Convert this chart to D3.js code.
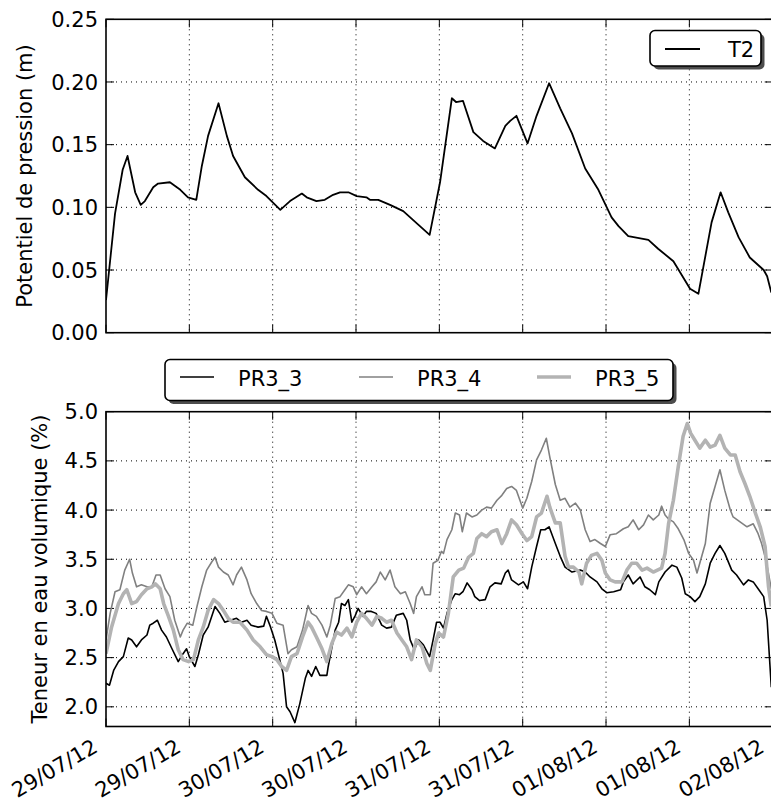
<!DOCTYPE html>
<html><head><meta charset="utf-8">
<script src="https://cdn.jsdelivr.net/npm/d3@7"></script>
<style>body{margin:0;background:#fff}svg{display:block;font-family:"DejaVu Sans",sans-serif}</style>
</head><body><svg id="c" width="771" height="802"></svg>
<script>
// ---- data (hours since 29/07/12 00:00) ----
const xTickHours = [0,12,24,36,48,60,72,84,96];
const xTickLabels = ["29/07/12","29/07/12","30/07/12","30/07/12","31/07/12","31/07/12","01/08/12","01/08/12","02/08/12"];
const topTicks = [0.00,0.05,0.10,0.15,0.20,0.25];
const botTicks = [2.0,2.5,3.0,3.5,4.0,4.5,5.0];

const t2Hours = [0,1.3,2.4,3.1,4.2,5.0,5.6,6.8,7.5,9.2,10.7,11.8,13.0,13.8,14.7,16.2,17.4,18.3,20.0,21.9,23.1,25.1,26.5,28.2,28.9,30.3,31.5,32.7,33.7,34.9,36.1,37.5,38.0,39.2,40.9,42.8,45.0,46.6,48.1,49.8,50.4,51.4,52.9,54.3,56.0,57.5,58.2,59.1,60.7,62.0,63.8,65.4,67.1,69.0,70.9,72.8,73.8,75.2,78.1,79.5,81.7,84.1,85.3,87.2,88.5,89.6,91.1,92.7,94.7,95.2,95.8];
const t2Values = [0.026,0.095,0.130,0.141,0.112,0.102,0.105,0.116,0.119,0.120,0.114,0.108,0.106,0.133,0.157,0.183,0.157,0.141,0.124,0.114,0.109,0.098,0.105,0.111,0.108,0.105,0.106,0.110,0.112,0.112,0.109,0.108,0.106,0.106,0.102,0.097,0.086,0.078,0.120,0.187,0.184,0.185,0.160,0.153,0.147,0.165,0.169,0.173,0.151,0.173,0.199,0.179,0.159,0.131,0.114,0.092,0.085,0.077,0.074,0.067,0.057,0.035,0.031,0.088,0.112,0.096,0.076,0.060,0.050,0.045,0.032];

const pr33Hours = [0,0.5,1.1,1.8,2.5,3.2,3.7,4.4,5.1,5.9,6.3,6.8,7.4,8.0,8.7,9.5,10.4,11.1,11.6,12.0,12.8,13.3,14.0,14.7,15.7,16.4,17.1,17.9,18.8,19.5,20.3,20.9,21.9,22.7,23.1,23.7,24.3,24.8,25.5,26.0,26.5,27.2,27.9,28.7,29.1,29.6,30.2,30.8,31.8,32.0,33.0,33.5,33.9,34.4,34.9,35.4,35.9,36.3,37.0,37.5,38.2,38.9,39.7,40.4,41.1,41.8,42.8,43.3,43.8,44.4,45.0,45.7,46.6,47.1,47.6,48.1,48.6,49.1,49.8,50.3,50.9,51.4,52.0,52.7,53.1,53.8,54.6,55.3,56.0,56.9,57.5,57.9,58.4,59.4,60.1,60.7,61.3,62.0,62.6,63.2,63.8,64.7,65.4,66.1,67.1,68.3,69.0,69.7,70.7,71.4,72.1,73.1,74.1,74.5,75.2,75.9,76.9,77.6,78.3,79.1,79.6,80.5,81.5,82.2,82.9,83.4,84.1,84.8,85.5,86.3,87.0,87.7,88.4,89.1,90.1,90.8,91.8,92.5,93.2,93.9,94.7,95.2,95.8];
const pr33Values = [2.24,2.22,2.37,2.46,2.51,2.70,2.68,2.61,2.68,2.73,2.83,2.85,2.88,2.78,2.71,2.59,2.46,2.54,2.59,2.51,2.41,2.53,2.73,2.81,3.02,2.95,2.86,2.88,2.90,2.86,2.88,2.83,2.81,2.82,2.92,2.81,2.68,2.54,2.34,2.00,1.95,1.84,2.03,2.29,2.37,2.31,2.41,2.32,2.32,2.41,2.78,2.86,3.05,3.03,3.09,2.86,2.93,3.00,2.92,2.97,2.97,2.95,2.83,2.80,2.81,2.93,2.95,2.88,2.68,2.58,2.68,2.63,2.51,2.68,2.86,2.86,2.80,2.95,3.09,3.15,3.14,3.17,3.26,3.19,3.12,3.08,3.09,3.22,3.26,3.25,3.36,3.39,3.29,3.24,3.27,3.20,3.42,3.63,3.80,3.80,3.83,3.66,3.53,3.42,3.37,3.39,3.37,3.32,3.27,3.20,3.16,3.17,3.19,3.27,3.34,3.25,3.32,3.22,3.19,3.14,3.27,3.37,3.44,3.42,3.31,3.15,3.12,3.07,3.12,3.25,3.46,3.56,3.64,3.56,3.39,3.34,3.24,3.29,3.27,3.20,3.12,2.88,2.20];

const pr34Hours = [0,0.6,1.3,2.0,2.7,3.4,3.8,4.4,5.1,5.9,6.6,7.2,7.8,8.5,9.2,9.9,10.7,11.1,11.7,12.5,13.1,13.8,14.5,15.2,15.7,16.2,16.9,17.6,18.3,18.8,19.5,20.3,20.9,21.7,22.4,23.1,23.9,24.6,25.5,26.2,26.7,27.5,28.3,29.1,29.6,30.3,31.1,31.8,32.3,33.0,33.7,34.4,34.9,35.6,36.1,36.8,37.5,38.3,38.9,39.5,40.2,40.9,41.6,42.4,43.1,43.8,44.3,44.7,45.5,45.9,46.7,47.1,47.8,48.3,48.6,49.1,49.8,50.3,50.9,51.3,51.9,52.7,53.4,54.1,54.8,55.5,56.3,57.0,57.7,58.4,59.1,59.6,60.0,60.6,61.3,62.0,62.7,63.4,63.9,64.7,65.4,66.1,66.8,67.6,68.3,69.0,69.7,70.4,71.2,71.9,72.6,73.5,74.5,75.2,75.9,76.7,77.4,78.1,78.8,79.6,80.0,80.5,81.0,81.7,82.4,83.2,83.9,84.6,85.1,85.5,86.3,87.0,87.7,88.4,89.1,89.9,90.3,91.3,92.3,93.2,93.9,94.4,95.0,95.8];
const pr34Values = [2.68,2.95,3.17,3.19,3.39,3.50,3.36,3.22,3.24,3.22,3.22,3.34,3.34,3.20,3.12,2.88,2.71,2.78,2.85,2.83,3.02,3.22,3.39,3.47,3.52,3.42,3.37,3.34,3.24,3.34,3.42,3.29,3.15,3.05,2.98,2.97,2.95,2.85,2.83,2.54,2.58,2.61,2.78,3.03,2.95,2.92,2.83,2.71,2.83,3.10,3.12,3.19,3.24,3.22,3.14,3.22,3.15,3.22,3.27,3.37,3.29,3.39,3.22,3.15,3.17,3.05,2.95,3.12,3.22,3.14,3.14,3.46,3.49,3.58,3.56,3.70,3.80,3.97,3.95,3.78,3.97,3.93,3.95,4.00,4.03,4.02,4.10,4.15,4.22,4.24,4.20,4.10,4.02,4.12,4.29,4.51,4.61,4.73,4.54,4.26,4.10,4.12,4.03,4.07,4.00,3.80,3.68,3.70,3.66,3.63,3.75,3.76,3.81,3.83,3.90,3.80,3.85,3.95,3.90,3.95,4.04,3.95,3.91,3.88,3.81,3.70,3.56,3.49,3.36,3.46,3.66,4.07,4.24,4.41,4.20,4.00,3.93,3.88,3.83,3.86,3.76,3.66,3.50,3.20];

const pr35Hours = [0,0.8,1.8,2.5,3.0,3.7,4.4,5.1,5.9,6.6,7.1,7.8,8.3,9.0,9.7,10.4,11.1,11.9,12.6,13.3,14.0,14.7,15.5,16.2,16.9,17.6,18.3,19.3,20.3,21.2,22.2,23.1,23.9,24.6,25.3,26.0,26.7,27.5,28.3,29.1,29.6,30.3,31.1,31.8,32.5,33.2,33.9,34.7,35.4,36.1,36.8,37.5,38.3,39.0,39.7,40.4,41.1,41.9,42.6,43.3,44.0,44.7,45.5,46.2,46.7,47.4,47.9,48.6,49.3,50.0,50.8,51.5,52.2,52.9,53.4,54.1,54.8,55.5,56.3,57.0,57.7,58.4,59.1,59.9,60.6,61.3,62.0,62.7,63.5,63.9,64.7,65.4,66.1,66.6,67.3,68.1,68.5,69.2,69.9,70.7,71.4,71.9,72.6,73.3,74.3,75.0,75.7,76.4,77.2,77.9,78.8,80.0,80.5,81.0,81.7,82.4,83.1,83.7,84.2,84.8,85.5,86.3,87.0,87.7,88.4,89.1,89.9,90.6,91.3,92.0,92.7,93.5,94.2,94.9,95.4,95.8];
const pr35Values = [2.54,2.81,3.05,3.15,3.19,3.05,3.07,3.14,3.20,3.22,3.25,3.20,3.05,2.92,2.78,2.58,2.48,2.46,2.48,2.68,2.81,2.98,3.09,3.05,2.98,2.90,2.86,2.86,2.78,2.68,2.61,2.53,2.51,2.48,2.41,2.37,2.51,2.54,2.71,2.86,2.81,2.71,2.59,2.46,2.64,2.76,2.73,2.80,2.71,2.86,2.95,2.90,2.83,2.92,2.90,2.86,2.88,2.75,2.68,2.61,2.48,2.68,2.61,2.44,2.37,2.64,2.75,2.71,2.95,3.32,3.39,3.41,3.52,3.56,3.71,3.76,3.73,3.78,3.80,3.66,3.76,3.90,3.85,3.76,3.69,3.73,3.93,3.97,4.14,4.03,3.87,3.87,3.53,3.42,3.42,3.37,3.25,3.46,3.54,3.56,3.49,3.36,3.29,3.27,3.27,3.39,3.46,3.46,3.39,3.41,3.37,3.41,3.56,3.86,4.10,4.44,4.75,4.88,4.78,4.71,4.63,4.71,4.64,4.66,4.76,4.63,4.56,4.56,4.39,4.27,4.14,3.97,3.83,3.63,3.22,3.02];

// ---- layout ----
const svg = d3.select("#c");
svg.append("rect").attr("width",771).attr("height",802).attr("fill","#fff");
const X0 = 106, X1 = 772.7;
const x = d3.scaleLinear().domain([0,96]).range([X0,X1]);
const yTop = d3.scaleLinear().domain([0,0.25]).range([332.7,19.3]);
const yBot = d3.scaleLinear().domain([1.8,5.0]).range([726.5,411.7]);
const FS = 21;

function panel(y, yticks, fmt, id){
  const [yb, yt] = y.range();
  const g = svg.append("g");
  svg.append("clipPath").attr("id",id).append("rect").attr("x",X0).attr("y",yt).attr("width",X1-X0).attr("height",yb-yt);
  // grid
  g.selectAll(".gx").data(xTickHours.slice(1,-1)).join("line")
    .attr("x1",d=>x(d)).attr("x2",d=>x(d)).attr("y1",yt).attr("y2",yb)
    .attr("stroke","#000").attr("stroke-width",1).attr("stroke-dasharray","1,4");
  g.selectAll(".gy").data(yticks.filter(v=>y(v)>yt+1 && y(v)<yb-1)).join("line")
    .attr("x1",X0).attr("x2",X1).attr("y1",d=>y(d)).attr("y2",d=>y(d))
    .attr("stroke","#000").attr("stroke-width",1).attr("stroke-dasharray","1,4");
  // ticks (inward, all sides)
  const TL = 8;
  g.selectAll(".tb").data(xTickHours).join("line").attr("x1",d=>x(d)).attr("x2",d=>x(d)).attr("y1",yb).attr("y2",yb-TL).attr("stroke","#000");
  g.selectAll(".tt").data(xTickHours).join("line").attr("x1",d=>x(d)).attr("x2",d=>x(d)).attr("y1",yt).attr("y2",yt+TL).attr("stroke","#000");
  g.selectAll(".tl").data(yticks).join("line").attr("x1",X0).attr("x2",X0+TL).attr("y1",d=>y(d)).attr("y2",d=>y(d)).attr("stroke","#000");
  g.selectAll(".tr").data(yticks).join("line").attr("x1",X1).attr("x2",X1-TL).attr("y1",d=>y(d)).attr("y2",d=>y(d)).attr("stroke","#000");
  // y tick labels
  g.selectAll(".yl").data(yticks).join("text").attr("x",X0-8).attr("y",d=>y(d)).attr("dy","0.36em")
    .attr("text-anchor","end").attr("font-size",FS).text(fmt);
  return g;
}
const gTop = panel(yTop, topTicks, d=>d.toFixed(2), "clipTop");
const gBot = panel(yBot, botTicks, d=>d.toFixed(1), "clipBot");

function drawLine(g, y, hours, vals, color, w, clip){
  const pts = hours.map((h,i)=>[h, vals[i]]);
  g.append("path").datum(pts).attr("clip-path",`url(#${clip})`)
    .attr("d", d3.line().x(d=>x(d[0])).y(d=>y(d[1])))
    .attr("fill","none").attr("stroke",color).attr("stroke-width",w).attr("stroke-linejoin","round");
}
drawLine(gTop, yTop, t2Hours, t2Values, "#000", 1.8, "clipTop");
drawLine(gBot, yBot, pr33Hours, pr33Values, "#000", 1.6, "clipBot");
drawLine(gBot, yBot, pr34Hours, pr34Values, "#808080", 1.6, "clipBot");
drawLine(gBot, yBot, pr35Hours, pr35Values, "#b3b3b3", 3.6, "clipBot");

// frames
[[yTop,gTop],[yBot,gBot]].forEach(([y,g])=>{
  const [yb,yt]=y.range();
  g.append("rect").attr("x",X0).attr("y",yt).attr("width",X1-X0).attr("height",yb-yt)
    .attr("fill","none").attr("stroke","#000").attr("stroke-width",1.6);
});

// x tick labels (bottom panel only)
svg.selectAll(".xl").data(xTickHours).join("text")
  .attr("transform",(d)=>`translate(${x(d)-7},751) rotate(-30)`)
  .attr("text-anchor","end").attr("font-size",FS).text((d,i)=>xTickLabels[i]);

// axis titles
svg.append("text").attr("transform",`translate(32,176) rotate(-90)`).attr("text-anchor","middle")
  .attr("font-size",FS).text("Potentiel de pression (m)");
svg.append("text").attr("transform",`translate(47,569) rotate(-90)`).attr("text-anchor","middle")
  .attr("font-size",FS).text("Teneur en eau volumique (%)");

// legends
function legendBox(x0,y0,w,h){
  svg.append("rect").attr("x",x0+3.5).attr("y",y0+3.5).attr("width",w).attr("height",h).attr("rx",5).attr("fill","#4d4d4d");
  svg.append("rect").attr("x",x0).attr("y",y0).attr("width",w).attr("height",h).attr("rx",5).attr("fill","#fff").attr("stroke","#000").attr("stroke-width",1.6);
}
legendBox(650,30.5,111,35.5);
svg.append("line").attr("x1",665).attr("x2",700).attr("y1",49).attr("y2",49).attr("stroke","#000").attr("stroke-width",1.8);
svg.append("text").attr("x",728).attr("y",57).attr("font-size",FS).text("T2");

const legendSeries = ["PR3_3","PR3_4","PR3_5"];
const legendColors = ["#000","#808080","#b3b3b3"];
const legendWidths = [1.6,1.6,3.6];
const legendX = [180,359,537];
legendBox(165,359.5,508,41);
legendSeries.forEach((s,i)=>{
  svg.append("line").attr("x1",legendX[i]).attr("x2",legendX[i]+34).attr("y1",377).attr("y2",377)
    .attr("stroke",legendColors[i]).attr("stroke-width",legendWidths[i]);
  svg.append("text").attr("x",legendX[i]+58).attr("y",385.5).attr("font-size",FS).text(s);
});
</script></body></html>
